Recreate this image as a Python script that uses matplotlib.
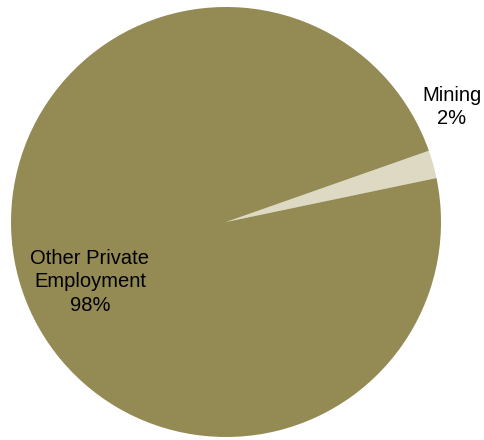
import matplotlib.pyplot as plt

# Employment share data
categories = ["Mining", "Other Private\nEmployment"]
shares = [2.1, 97.9]
share_labels = ["2%", "98%"]
colors = ["#ddd9c3", "#948a54"]

plt.rcParams['font.family'] = ['Liberation Sans', 'DejaVu Sans']

fig = plt.figure(figsize=(4.85, 4.4), dpi=100)
ax = fig.add_axes([11 / 485, 3 / 440, 430 / 485, 430 / 440])

ax.pie(shares, colors=colors, startangle=11.8, counterclock=True,
       radius=1.0, wedgeprops=dict(linewidth=0))
ax.set_xlim(-1, 1)
ax.set_ylim(-1, 1)
ax.set_aspect('equal')
ax.axis('off')

# label positions (in pie radius units)
label_pos = [(1.051, 0.535), (-0.633, -0.279)]
for cat, lab, (x, y) in zip(categories, share_labels, label_pos):
    ax.text(x, y, f"{cat}\n{lab}", ha='center', va='center', fontsize=14.5,
            color='black', linespacing=1.3, clip_on=False)

fig.savefig("out.png", dpi=100)
